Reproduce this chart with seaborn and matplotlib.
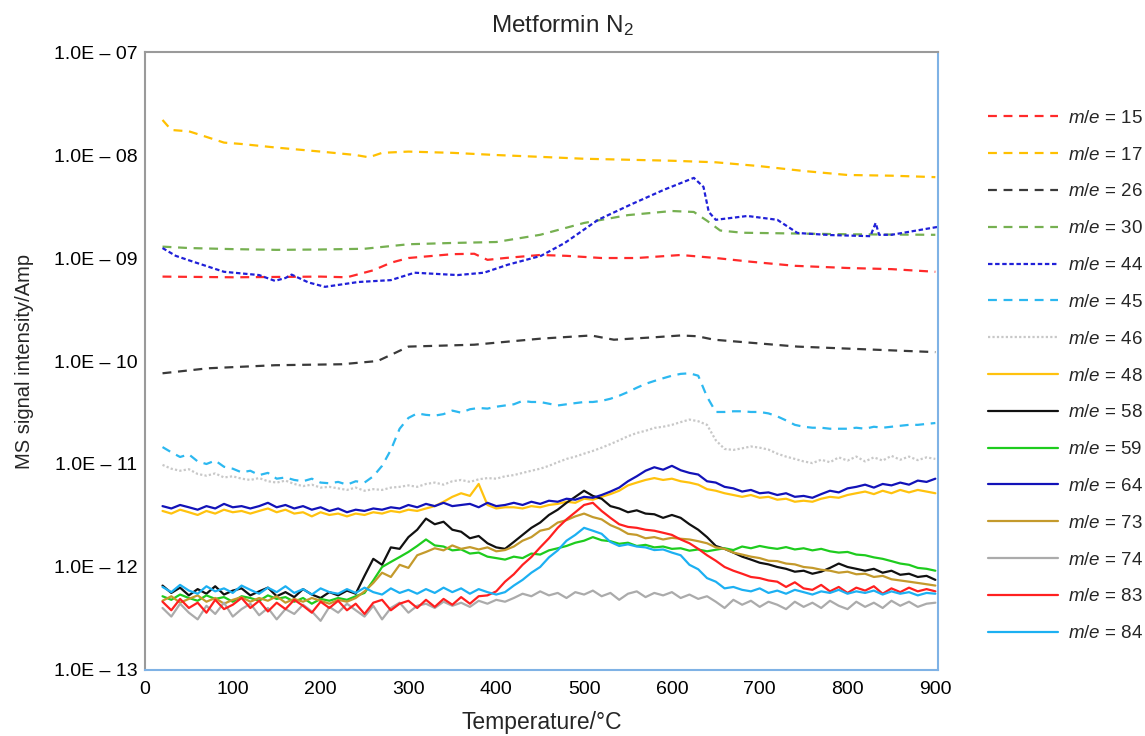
import numpy as np
import pandas as pd
import matplotlib
matplotlib.use("Agg")
import matplotlib.pyplot as plt
import seaborn as sns
from matplotlib.ticker import FixedLocator, FuncFormatter

# all signals are typed in pA (1e-12 A) and converted when plotted
PA = 1e-12

# 10 degC grid used by the noisy traces
temps = np.arange(20, 901, 10)

# ---- dashed / dotted traces (own temperature points) ----
t_15 = [20, 100, 200, 230, 260, 280, 300, 350, 375, 390, 410, 450, 480, 520, 560, 610, 650, 690, 740, 800, 850, 900]
me_15 = [660, 650, 660, 650, 760, 900, 1000, 1090, 1100, 960, 1000, 1070, 1050, 1000, 1000, 1070, 1000, 920, 840, 800, 780, 735]

t_17 = [20, 30, 50, 70, 90, 110, 150, 200, 240, 255, 270, 300, 350, 400, 450, 500, 550, 600, 650, 700, 750, 800, 850, 900]
me_17 = [21900, 17500, 17000, 15000, 13200, 12800, 11800, 10800, 10000, 9500, 10500, 10800, 10500, 10000,
         9600, 9200, 9000, 8800, 8500, 7800, 7000, 6400, 6300, 6100]

t_26 = [20, 72, 148, 224, 265, 285, 300, 375, 451, 508, 534, 580, 610, 629, 648, 743, 900]
me_26 = [76, 85, 91, 93, 100, 120, 138, 144, 165, 177, 161, 170, 177, 174, 161, 138, 122]

t_30 = [20, 50, 100, 150, 200, 250, 300, 350, 400, 450, 500, 550, 600, 625, 640, 655, 680, 720, 800, 900]
me_30 = [1290, 1250, 1220, 1200, 1210, 1230, 1360, 1400, 1430, 1680, 2190, 2610, 2860, 2800, 2300, 1850,
         1760, 1740, 1700, 1680]

t_44 = [20, 35, 55, 90, 130, 148, 160, 167, 186, 205, 243, 280, 307, 356, 386, 413, 451, 478, 516, 553,
        591, 625, 636, 642, 650, 686, 720, 743, 781, 826, 832, 836, 850, 902]
me_44 = [1250, 1050, 920, 735, 683, 600, 640, 690, 580, 525, 585, 610, 720, 683, 720, 860, 1050, 1400, 2350, 3300,
         4600, 6000, 4900, 2800, 2350, 2560, 2350, 1750, 1670, 1630, 2190, 1680, 1680, 2000]

me_45 = [14.6, 13.0, 11.7, 12.4, 10.6, 10.0, 10.8, 9.4, 9.0, 8.3,
         8.6, 7.8, 8.2, 7.2, 7.4, 7.0, 6.8, 7.2, 6.6, 6.5,
         6.7, 6.3, 6.8, 6.6, 7.6, 9.6, 13.7, 22.0, 28.0, 31.0,
         30.0, 29.5, 30.5, 33.0, 31.5, 34.0, 35.0, 34.5, 36.0, 37.0,
         38.0, 41.0, 40.0, 40.0, 38.5, 37.0, 38.0, 39.0, 40.0, 40.0,
         41.0, 43.0, 46.0, 50.0, 55.0, 60.0, 64.0, 68.0, 72.0, 75.0,
         76.0, 72.0, 45.0, 32.0, 32.0, 32.5, 32.5, 32.0, 32.0, 31.0,
         29.0, 26.5, 24.0, 23.0, 22.5, 22.5, 22.0, 22.0, 22.0, 22.5,
         22.0, 23.0, 22.5, 23.0, 23.5, 24.0, 24.0, 24.5, 25.0]

me_46 = [9.8, 9.0, 8.6, 8.9, 8.0, 7.7, 8.1, 7.4, 7.6, 7.2,
         7.0, 7.3, 6.8, 6.6, 6.9, 6.4, 6.1, 6.3, 5.9, 6.0,
         5.8, 5.6, 5.9, 5.5, 5.7, 5.6, 5.9, 6.0, 6.2, 6.0,
         6.4, 6.6, 6.3, 6.8, 7.0, 6.7, 7.1, 7.3, 7.2, 7.6,
         7.8, 8.2, 8.6, 9.0, 9.6, 10.4, 11.2, 11.8, 12.6, 13.4,
         14.4, 15.6, 17.0, 18.6, 20.0, 21.0, 22.4, 23.0, 24.0, 25.5,
         27.0, 26.0, 24.0, 17.0, 14.0, 13.7, 14.2, 14.8, 14.4, 13.8,
         12.6, 11.8, 11.2, 10.6, 10.2, 11.0, 10.4, 11.6, 10.8, 11.8,
         10.6, 11.6, 10.8, 12.0, 11.0, 11.8, 10.9, 11.6, 11.2]

# ---- solid (noisy) traces on the 10 degC grid ----
me_48 = [3.5, 3.3, 3.6, 3.4, 3.2, 3.5, 3.3, 3.6, 3.4, 3.5,
         3.3, 3.5, 3.7, 3.4, 3.6, 3.3, 3.4, 3.1, 3.4, 3.2,
         3.3, 3.1, 3.3, 3.2, 3.4, 3.3, 3.5, 3.4, 3.6, 3.5,
         3.7, 3.9, 4.3, 4.8, 5.2, 4.9, 6.4, 4.0, 3.7, 3.8,
         3.8, 3.7, 3.9, 3.8, 4.0, 4.1, 4.3, 4.2, 4.6, 4.5,
         4.8, 5.1, 5.5, 6.2, 6.6, 7.0, 7.3, 7.0, 7.2, 6.8,
         6.6, 6.3, 5.7, 5.5, 5.2, 5.0, 4.8, 5.0, 4.7, 4.8,
         4.5, 4.6, 4.3, 4.4, 4.3, 4.6, 4.8, 4.7, 5.0, 5.2,
         5.4, 5.1, 5.5, 5.2, 5.6, 5.3, 5.6, 5.4, 5.2]

me_58 = [0.66, 0.56, 0.63, 0.53, 0.61, 0.55, 0.65, 0.54, 0.59, 0.62,
         0.53, 0.58, 0.63, 0.52, 0.57, 0.51, 0.61, 0.54, 0.50, 0.57,
         0.53, 0.59, 0.55, 0.82, 1.20, 1.05, 1.55, 1.50, 1.95, 2.30,
         2.95, 2.60, 2.75, 2.30, 2.20, 1.90, 2.00, 1.70, 1.55, 1.50,
         1.75, 2.05, 2.40, 2.70, 3.20, 3.60, 4.20, 4.80, 5.50, 4.90,
         4.60, 3.90, 3.70, 3.40, 3.55, 3.30, 3.25, 3.00, 3.20, 3.00,
         2.60, 2.30, 1.95, 1.60, 1.50, 1.38, 1.26, 1.18, 1.10, 1.06,
         1.00, 0.96, 0.90, 0.92, 0.86, 0.90, 0.98, 1.08, 1.00, 0.96,
         0.92, 0.96, 0.88, 0.92, 0.84, 0.86, 0.80, 0.82, 0.75]

me_59 = [0.52, 0.48, 0.54, 0.50, 0.47, 0.53, 0.49, 0.51, 0.46, 0.52,
         0.50, 0.47, 0.53, 0.49, 0.51, 0.46, 0.50, 0.44, 0.49, 0.47,
         0.50, 0.48, 0.52, 0.56, 0.74, 1.00, 1.12, 1.25, 1.40, 1.60,
         1.85, 1.62, 1.58, 1.45, 1.48, 1.35, 1.38, 1.26, 1.22, 1.18,
         1.26, 1.22, 1.35, 1.32, 1.45, 1.52, 1.60, 1.72, 1.80, 1.95,
         1.82, 1.78, 1.68, 1.72, 1.60, 1.64, 1.55, 1.58, 1.50, 1.52,
         1.44, 1.48, 1.42, 1.47, 1.52, 1.46, 1.58, 1.52, 1.60, 1.54,
         1.50, 1.56, 1.48, 1.52, 1.45, 1.50, 1.42, 1.38, 1.40, 1.32,
         1.30, 1.24, 1.20, 1.14, 1.08, 1.05, 0.98, 0.96, 0.92]

me_64 = [3.9, 3.7, 4.0, 3.8, 3.6, 3.9, 3.7, 4.1, 3.8, 3.9,
         3.7, 3.9, 4.2, 3.8, 4.0, 3.7, 3.9, 3.6, 3.8, 3.5,
         3.7, 3.4, 3.6, 3.5, 3.7, 3.6, 3.8, 3.7, 4.0, 3.8,
         4.1, 3.9, 4.2, 3.9, 4.0, 4.1, 3.8, 4.2, 3.9, 4.0,
         4.2, 4.0, 4.3, 4.1, 4.4, 4.3, 4.6, 4.5, 4.8, 4.7,
         5.0, 5.4, 5.9, 6.8, 7.6, 8.6, 9.3, 8.8, 9.6, 8.7,
         8.2, 7.9, 6.8, 6.6, 6.0, 5.8, 5.4, 5.6, 5.2, 5.3,
         5.0, 5.2, 4.8, 4.9, 4.7, 5.1, 5.5, 5.3, 5.8, 6.0,
         6.3, 5.9, 6.4, 6.2, 6.6, 6.3, 6.9, 6.7, 7.2]

me_73 = [0.47, 0.52, 0.45, 0.49, 0.53, 0.46, 0.50, 0.44, 0.48, 0.51,
         0.46, 0.50, 0.47, 0.52, 0.45, 0.49, 0.46, 0.50, 0.47, 0.44,
         0.48, 0.46, 0.50, 0.58, 0.70, 0.88, 0.80, 1.05, 0.98, 1.30,
         1.40, 1.52, 1.45, 1.62, 1.50, 1.56, 1.48, 1.55, 1.42, 1.46,
         1.58, 1.80, 1.95, 2.25, 2.35, 2.70, 2.85, 3.10, 3.30, 3.05,
         2.90, 2.55, 2.35, 2.10, 2.05, 1.90, 1.95, 1.85, 1.92, 1.88,
         1.85, 1.78, 1.70, 1.55, 1.50, 1.38, 1.32, 1.26, 1.22, 1.15,
         1.14, 1.08, 1.06, 1.00, 0.98, 0.94, 0.92, 0.88, 0.90, 0.85,
         0.86, 0.80, 0.82, 0.76, 0.74, 0.72, 0.70, 0.68, 0.66]

me_74 = [0.40, 0.33, 0.44, 0.36, 0.31, 0.42, 0.35, 0.45, 0.33, 0.39,
         0.44, 0.34, 0.40, 0.31, 0.39, 0.35, 0.43, 0.37, 0.30, 0.41,
         0.36, 0.44, 0.38, 0.33, 0.42, 0.31, 0.40, 0.45, 0.36, 0.42,
         0.44, 0.40, 0.46, 0.42, 0.45, 0.41, 0.47, 0.44, 0.48, 0.46,
         0.50, 0.55, 0.52, 0.58, 0.53, 0.56, 0.50, 0.57, 0.54, 0.59,
         0.52, 0.56, 0.48, 0.55, 0.58, 0.51, 0.56, 0.53, 0.57, 0.50,
         0.54, 0.49, 0.52, 0.46, 0.40, 0.48, 0.43, 0.47, 0.41, 0.46,
         0.43, 0.39, 0.46, 0.41, 0.45, 0.40, 0.47, 0.42, 0.39, 0.46,
         0.41, 0.45, 0.40, 0.47, 0.42, 0.46, 0.41, 0.44, 0.45]

me_83 = [0.46, 0.38, 0.49, 0.40, 0.45, 0.36, 0.48, 0.39, 0.43, 0.50,
         0.40, 0.47, 0.37, 0.45, 0.39, 0.48, 0.42, 0.36, 0.46, 0.40,
         0.47, 0.38, 0.44, 0.35, 0.45, 0.48, 0.38, 0.44, 0.47, 0.40,
         0.48, 0.41, 0.49, 0.43, 0.51, 0.44, 0.52, 0.53, 0.58, 0.72,
         0.85, 1.05, 1.25, 1.55, 1.90, 2.40, 2.90, 3.40, 4.00, 4.20,
         3.50, 3.00, 2.60, 2.45, 2.40, 2.30, 2.25, 2.15, 2.05, 1.85,
         1.70, 1.50, 1.30, 1.15, 1.00, 0.92, 0.86, 0.80, 0.78, 0.74,
         0.72, 0.64, 0.71, 0.62, 0.60, 0.67, 0.58, 0.64, 0.56, 0.63,
         0.59, 0.65, 0.55, 0.62, 0.57, 0.63, 0.58, 0.61, 0.58]

me_84 = [0.64, 0.57, 0.67, 0.59, 0.55, 0.65, 0.58, 0.62, 0.56, 0.66,
         0.60, 0.55, 0.63, 0.57, 0.65, 0.56, 0.61, 0.54, 0.62, 0.57,
         0.55, 0.61, 0.56, 0.63, 0.57, 0.54, 0.62, 0.56, 0.60, 0.55,
         0.61, 0.56, 0.63, 0.57, 0.62, 0.55, 0.61, 0.57, 0.54, 0.57,
         0.66, 0.75, 0.88, 1.00, 1.24, 1.45, 1.80, 2.05, 2.40, 2.25,
         2.10, 1.75, 1.60, 1.66, 1.58, 1.55, 1.46, 1.48, 1.38, 1.30,
         1.05, 0.95, 0.78, 0.72, 0.62, 0.64, 0.60, 0.58, 0.62, 0.56,
         0.59, 0.55, 0.60, 0.57, 0.54, 0.58, 0.56, 0.60, 0.55, 0.58,
         0.56, 0.59, 0.54, 0.58, 0.55, 0.57, 0.53, 0.56, 0.55]

y_ticks = [1e-13, 1e-12, 1e-11, 1e-10, 1e-9, 1e-8, 1e-7]
x_ticks = [0, 100, 200, 300, 400, 500, 600, 700, 800, 900]

# (label, temps, values, colour, linestyle)
dashed = (0, (4, 3))
series = [
    ("15", t_15, me_15, "#ff2a2a", dashed),
    ("17", t_17, me_17, "#ffc000", dashed),
    ("26", t_26, me_26, "#3a3a3a", dashed),
    ("30", t_30, me_30, "#76b051", dashed),
    ("44", t_44, me_44, "#2020d8", (0, (2, 1.2))),
    ("45", temps, me_45, "#2cb8f0", dashed),
    ("46", temps, me_46, "#c8c8c8", (0, (1, 1))),
    ("48", temps, me_48, "#ffc20e", "-"),
    ("58", temps, me_58, "#111111", "-"),
    ("59", temps, me_59, "#1ecc1e", "-"),
    ("64", temps, me_64, "#1212b8", "-"),
    ("73", temps, me_73, "#c49a2c", "-"),
    ("74", temps, me_74, "#ababab", "-"),
    ("83", temps, me_83, "#ff2020", "-"),
    ("84", temps, me_84, "#1cb0f2", "-"),
]

sns.set_theme(style="white")
plt.rcParams["font.family"] = ["Liberation Sans", "DejaVu Sans"]
plt.rcParams["mathtext.fontset"] = "custom"
plt.rcParams["mathtext.rm"] = "Liberation Sans"
plt.rcParams["mathtext.it"] = "Liberation Sans:italic"

fig = plt.figure(figsize=(11.45, 7.36), dpi=100)
ax = fig.add_axes([0.1266, 0.0897, 0.6926, 0.8396])

for label, t, vals, color, ls in series:
    df = pd.DataFrame({"T": t, "I": np.array(vals) * PA})
    sns.lineplot(data=df, x="T", y="I", ax=ax, color=color, linestyle=ls,
                 linewidth=1.6, label=f"$m/e$ = {label}", estimator=None, sort=False)

ax.set_yscale("log")
ax.set_ylim(1e-13, 1e-7)
ax.set_xlim(0, 903)
ax.yaxis.set_major_locator(FixedLocator(y_ticks))
ax.yaxis.set_minor_locator(FixedLocator([]))
ax.yaxis.set_major_formatter(FuncFormatter(lambda v, p: "1.0E \u2013 %02d" % round(-np.log10(v))))
ax.set_xticks(x_ticks)
ax.tick_params(axis="both", length=0, labelsize=14, colors="black")
ax.tick_params(axis="y", pad=5.5)
ax.tick_params(axis="x", pad=8)

for side in ["top", "left"]:
    ax.spines[side].set_color("#9a9a9a")
    ax.spines[side].set_linewidth(1.5)
for side in ["bottom", "right"]:
    ax.spines[side].set_color("#7fb2e5")
    ax.spines[side].set_linewidth(1.5)

ax.set_xlabel("Temperature/\u00b0C", fontsize=16.5, labelpad=9)
ax.set_ylabel("MS signal intensity/Amp", fontsize=14.5, labelpad=14)
ax.set_title("Metformin N$_2$", fontsize=17.5, x=0.527, pad=14)

leg = ax.legend(loc="upper left", bbox_to_anchor=(1.042, 0.934), frameon=False,
                fontsize=13.5, handlelength=3.73, handletextpad=0.53, labelspacing=1.05)

fig.savefig("out.png", dpi=100)
